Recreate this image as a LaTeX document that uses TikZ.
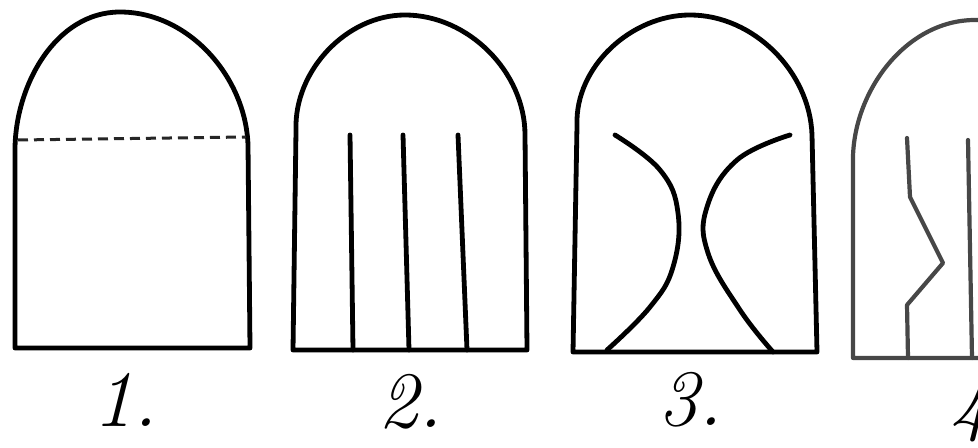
\documentclass[tikz,border=0pt]{standalone}
\usepackage{tikz}
\tikzset{
  outline/.style={line width=2.4pt, line join=round, line cap=round, black},
  pencil/.style={line width=2.1pt, line join=round, line cap=round, black!72},
  fold/.style={line width=1.5pt, dash pattern=on 5pt off 3pt, black!85},
  numlabel/.style={font=\fontsize{40}{42}\selectfont\itshape, inner sep=0pt},
}
\begin{document}
\begin{tikzpicture}[x=0.5pt, y=-0.5pt]
  \useasboundingbox (0,0) rectangle (978,448);
  \clip (0,0) rectangle (978,448);

  % 1: arch with fold line
  \draw[outline] (15,348) -- (15,150) to[out=90, in=180, looseness=0.95] (120,12)
    to[out=0, in=92, looseness=0.95] (248,145) -- (250,348) -- cycle;
  \coordinate (f1) at (18,140);
  \coordinate (f2) at (246,137);
  \draw[fold] (f1) -- (f2);
  \node[numlabel] (n1) at (125,400) {1.};

  % 2: arch with three straight seams
  \draw[outline] (293,350) -- (296,130) to[out=92, in=180, looseness=0.95] (405,15)
    to[out=0, in=90, looseness=0.95] (525,135) -- (527,350) -- cycle;
  \foreach \xa/\xb in {350/353, 403/409, 458/467}
    \draw[outline] (\xa,135) -- (\xb,350);
  \node[numlabel] (n2) at (410,402) {2.};

  % 3: arch with two curved seams
  \draw[outline] (573,352) -- (577,125) to[out=92, in=180, looseness=0.95] (690,15)
    to[out=0, in=92, looseness=0.95] (812,135) -- (817,352) -- cycle;
  \draw[outline] plot[smooth, tension=0.7] coordinates {(615,135) (660,170) (678,213) (673,267) (650,307) (607,350)};
  \draw[outline] plot[smooth, tension=0.7] coordinates {(790,135) (737,160) (707,207) (708,253) (740,310) (773,352)};
  \node[numlabel] (n3) at (690,400) {3.};

  % 4: arch with zigzag seam (cut off at the right)
  \draw[pencil] (1000,358) -- (853,358) -- (853,165) to[out=92, in=180, looseness=0.95] (975,20) -- (1000,20);
  \draw[pencil] (907,138) -- (910,197) -- (943,263) -- (907,305) -- (908,358);
  \draw[pencil] (968,140) -- (972,358);
  \node[numlabel, anchor=west] (n4) at (950,408) {4};
\end{tikzpicture}
\end{document}
